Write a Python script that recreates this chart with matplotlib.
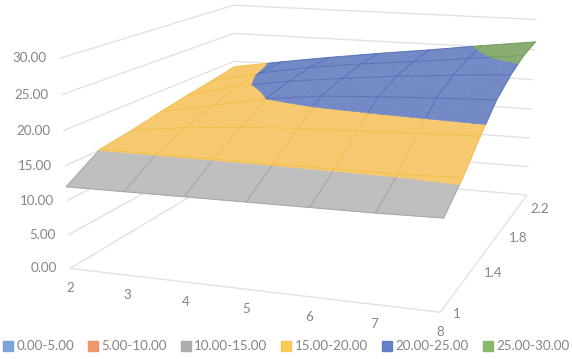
import numpy as np
import matplotlib
matplotlib.use('Agg')
import matplotlib.pyplot as plt
from matplotlib.patches import Patch
from mpl_toolkits.mplot3d.art3d import Poly3DCollection, Line3DCollection

plt.rcParams['font.family'] = ['Lato', 'DejaVu Sans']

# data
x_cats = [2, 3, 4, 5, 6, 7, 8]
y_cats = [1.0, 1.2, 1.4, 1.6, 1.8, 2.0, 2.2]
z_row_100 = [12.0, 12.1, 12.2, 12.3, 12.4, 12.5, 12.7]
z_row_120 = [15.1, 15.1, 15.1, 15.1, 15.15, 15.2, 15.5]
z_row_140 = [15.8, 16.9, 17.6, 18.1, 18.4, 18.7, 19.0]
z_row_160 = [16.7, 18.3, 20.0, 21.0, 21.5, 21.9, 22.2]
z_row_180 = [17.5, 19.6, 21.0, 22.0, 22.9, 23.6, 24.2]
z_row_200 = [18.2, 20.1, 21.6, 22.7, 23.6, 24.6, 25.6]
z_row_220 = [19.0, 20.4, 21.7, 22.9, 24.0, 25.2, 26.3]
z_ticks = [0, 5, 10, 15, 20, 25, 30]
y_labels = [1.0, 1.4, 1.8, 2.2]
band_labels = ['0.00-5.00', '5.00-10.00', '10.00-15.00', '15.00-20.00', '20.00-25.00', '25.00-30.00']
band_edges = [0, 5, 10, 15, 20, 25, 30]

# styles
legend_colors = ['#6f9ddb', '#ee8d5c', '#a5a5a5', '#fbc44a', '#5676bf', '#7db35f']
fill_colors = ['#7fa6dc', '#ef9a6b', '#bebebe', '#f6c96f', '#7389c6', '#88ab70']
line_colors = ['#5b8fd0', '#e07b3f', '#9c9c9c', '#f3bd3e', '#4f6db5', '#6f9a55']
y_label_dx = [17, 18, 15, 13]
y_label_dy = [-2, -7, -11, -14]
TXT = '#858585'
GRID = '#e2e2e2'

Z = np.array([z_row_100, z_row_120, z_row_140, z_row_160, z_row_180, z_row_200, z_row_220])
X = np.array(x_cats, float)
Y = np.array(y_cats, float)

W, H = 572, 359
fig = plt.figure(figsize=(W / 100, H / 100), dpi=100)
ax = fig.add_axes([0, 0, 1, 1], projection='3d')
ax.set_axis_off()
ax.computed_zorder = False
ax.apply_aspect = lambda *a, **k: None

# camera fitted to the box corners of the chart (world -> image pixels)
world = np.array([(2, 1, 0), (8, 1, 0), (8, 2.2, 0), (2, 2.2, 0), (2, 1, 30), (2, 2.2, 30), (8, 2.2, 30)], float)
image = np.array([(70, 268), (440, 313), (527, 194), (236, 170), (60, 58), (233, 5), (537, 20)], float)
A = []
for (a, b, c), (u, v) in zip(world, image):
    A.append([a, b, c, 1, 0, 0, 0, 0, -u * a, -u * b, -u * c, -u])
    A.append([0, 0, 0, 0, a, b, c, 1, -v * a, -v * b, -v * c, -v])
P = np.linalg.svd(np.array(A))[2][-1].reshape(3, 4)

inv = ax.transData.inverted()
o = inv.transform((0, H))
ex = inv.transform((1, H)) - o
ey = inv.transform((0, H - 1)) - o
Mview = np.vstack([
    ex[0] * P[0] + o[0] * P[2],
    ey[1] * P[1] + o[1] * P[2],
    np.array([0.0, 1.0, 0.0, 0.0]),
    P[2],
])
ax.get_proj = lambda: Mview


def pix(a, b, c):
    h = P @ np.array([a, b, c, 1.0])
    return h[0] / h[2], H - h[1] / h[2]


def label(s, a, b, c, dx, dy, ha='center'):
    px, py = pix(a, b, c)
    ax.annotate(s, xy=(px, py), xycoords='figure pixels', xytext=(dx, dy), textcoords='offset pixels',
                ha=ha, va='center', fontsize=9.6, color=TXT, annotation_clip=False)


# walls and floor
wall = []
for z in z_ticks:
    wall.append([(2, 1, z), (2, 2.2, z)])
    wall.append([(2, 2.2, z), (8, 2.2, z)])
wall.append([(2, 1, 0), (8, 1, 0)])
wall.append([(8, 1, 0), (8, 2.2, 0)])
lc = Line3DCollection(wall, colors=GRID, linewidths=1.0, zorder=1)
ax.add_collection3d(lc, autolim=False)


# surface
def clip(poly, level, keep_above):
    out = []
    n = len(poly)
    for i in range(n):
        p, q = poly[i], poly[(i + 1) % n]
        pin = p[2] >= level if keep_above else p[2] <= level
        qin = q[2] >= level if keep_above else q[2] <= level
        if pin:
            out.append(p)
        if pin != qin:
            t = (level - p[2]) / (q[2] - p[2])
            out.append(tuple(p[k] + t * (q[k] - p[k]) for k in range(3)))
    return out


def bilinear(u, v):
    i = min(int(u), len(X) - 2)
    j = min(int(v), len(Y) - 2)
    s, t = u - i, v - j
    z = (1 - s) * (1 - t) * Z[j, i] + s * (1 - t) * Z[j, i + 1] + (1 - s) * t * Z[j + 1, i] + s * t * Z[j + 1, i + 1]
    return X[i] + s * (X[i + 1] - X[i]), Y[j] + t * (Y[j + 1] - Y[j]), z


SUB = 6
us = np.linspace(0, len(X) - 1, (len(X) - 1) * SUB + 1)
vs = np.linspace(0, len(Y) - 1, (len(Y) - 1) * SUB + 1)
polys = [[] for _ in band_labels]
for a in range(len(us) - 1):
    for b in range(len(vs) - 1):
        c00 = bilinear(us[a], vs[b])
        c10 = bilinear(us[a + 1], vs[b])
        c11 = bilinear(us[a + 1], vs[b + 1])
        c01 = bilinear(us[a], vs[b + 1])
        for tri in ([c00, c10, c11], [c00, c11, c01]):
            for k in range(len(band_labels)):
                pl = clip(clip(tri, band_edges[k], True), band_edges[k + 1], False)
                if len(pl) >= 3:
                    polys[k].append(pl)
for k, pl in enumerate(polys):
    if pl:
        pc = Poly3DCollection(pl, facecolors=fill_colors[k], edgecolors=fill_colors[k], linewidths=0.4, zorder=2)
        ax.add_collection3d(pc, autolim=False)

segs, cols = [], []
fine = 24
for i in range(len(X)):
    t = np.linspace(0, len(Y) - 1, (len(Y) - 1) * fine + 1)
    pts = [bilinear(float(i), v) for v in t]
    for p, q in zip(pts[:-1], pts[1:]):
        segs.append([p, q])
        cols.append(line_colors[int(np.searchsorted(band_edges, (p[2] + q[2]) / 2)) - 1])
for j in range(len(Y)):
    t = np.linspace(0, len(X) - 1, (len(X) - 1) * fine + 1)
    pts = [bilinear(u, float(j)) for u in t]
    for p, q in zip(pts[:-1], pts[1:]):
        segs.append([p, q])
        cols.append(line_colors[int(np.searchsorted(band_edges, (p[2] + q[2]) / 2)) - 1])
ax.add_collection3d(Line3DCollection(segs, colors=cols, linewidths=0.8, alpha=0.7, zorder=3), autolim=False)

# tick labels
for z in z_ticks:
    label(f'{z:.2f}', 2, 1, z, -13, 0, ha='right')
for xv in x_cats:
    label(str(xv), xv, 1, 0, 0, -20)
for yv, dx, dy in zip(y_labels, y_label_dx, y_label_dy):
    label(f'{yv:g}', 8, yv, 0, dx, dy)

handles = [Patch(facecolor=c, edgecolor=c, alpha=0.9) for c in legend_colors]
fig.legend(handles, band_labels, ncol=6, loc='lower center', bbox_to_anchor=(0.5, 0.0), frameon=False,
           fontsize=9.6, labelcolor=TXT, handlelength=0.75, handleheight=0.75, handletextpad=0.25,
           columnspacing=1.05, borderpad=0.3, borderaxespad=0.2)

fig.savefig('out.png', dpi=100)
